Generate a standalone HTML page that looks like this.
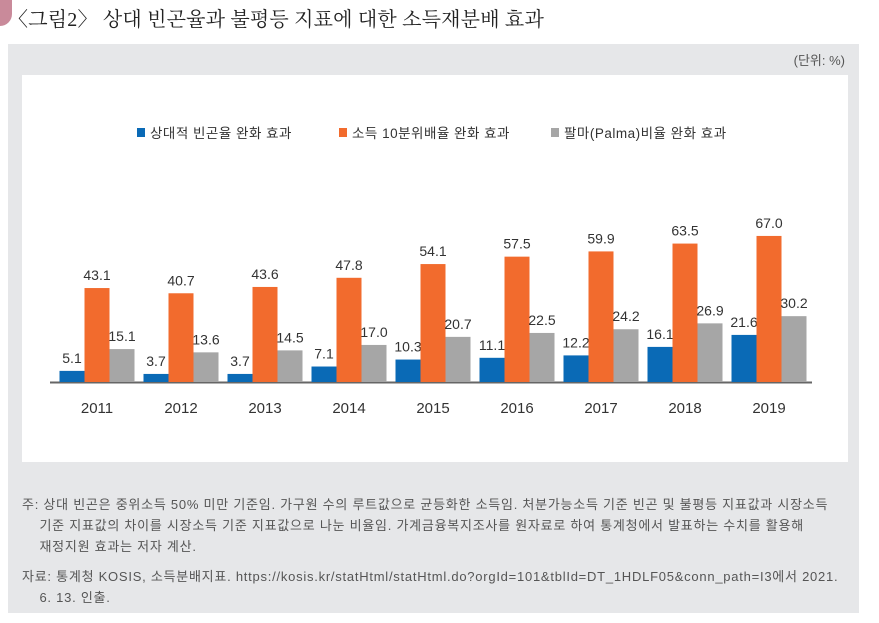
<!DOCTYPE html>
<html><head><meta charset="utf-8">
<style>
body{margin:0;width:879px;height:623px;background:#fff;overflow:hidden;font-family:"Liberation Sans","Noto Sans CJK KR",sans-serif;}
.title{position:absolute;left:8px;top:3px;font-size:20px;color:#222;font-family:"Liberation Serif","Noto Serif CJK SC",serif;letter-spacing:0.2px}
.mark{position:absolute;left:0;top:0;width:12px;height:26px;background:#c98a9a;border-radius:0 0 12px 0}
.panel{position:absolute;left:8px;top:44px;width:851px;height:569px;background:#e6e7e9}
.unit{position:absolute;right:14px;top:6px;font-size:13px;color:#555}
.white{position:absolute;left:14px;top:31px;width:826px;height:387px;background:#fff}
.note{position:absolute;left:14px;font-size:13px;color:#555;line-height:21px;letter-spacing:0.75px;white-space:nowrap}
</style></head><body>
<div class="mark"></div>
<div class="title">〈그림2〉 상대 빈곤율과 불평등 지표에 대한 소득재분배 효과</div>
<div class="panel">
<div class="unit">(단위: %)</div>
<div class="white"></div>
<div class="note" style="top:450px">주: 상대 빈곤은 중위소득 50% 미만 기준임. 가구원 수의 루트값으로 균등화한 소득임. 처분가능소득 기준 빈곤 및 불평등 지표값과 시장소득<br>&nbsp;&nbsp;&nbsp;&nbsp;기준 지표값의 차이를 시장소득 기준 지표값으로 나눈 비율임. 가계금융복지조사를 원자료로 하여 통계청에서 발표하는 수치를 활용해<br>&nbsp;&nbsp;&nbsp;&nbsp;재정지원 효과는 저자 계산.</div>
<div class="note" style="top:522px">자료: 통계청 KOSIS, 소득분배지표. https://kosis.kr/statHtml/statHtml.do?orgId=101&amp;tblId=DT_1HDLF05&amp;conn_path=I3에서 2021.<br>&nbsp;&nbsp;&nbsp;&nbsp;6. 13. 인출.</div>
</div>
<svg id="chart" width="879" height="623" style="position:absolute;left:0;top:0"></svg>
<script>
const years=["2011","2012","2013","2014","2015","2016","2017","2018","2019"];
const poverty=[5.1,3.7,3.7,7.1,10.3,11.1,12.2,16.1,21.6];
const decile=[43.1,40.7,43.6,47.8,54.1,57.5,59.9,63.5,67.0];
const palma=[15.1,13.6,14.5,17.0,20.7,22.5,24.2,26.9,30.2];
const seriesNames=["상대적 빈곤율 완화 효과","소득 10분위배율 완화 효과","팔마(Palma)비율 완화 효과"];
const NS="http://www.w3.org/2000/svg";
const svg=document.getElementById('chart');
const base=382, scale=2.18, x0=97, step=84, bw=25;
const colors=["#0a6ab6","#f26b2d","#a6a6a6"];
const yS=v=>base-v*scale;
const xS=i=>x0+i*step;
function mk(t,a){const e=document.createElementNS(NS,t);for(const k in a)e.setAttribute(k,a[k]);svg.appendChild(e);return e;}
const axis=mk('line',{x1:50,x2:812,y1:base+0.5,y2:base+0.5,stroke:'#666','stroke-width':2});


[poverty,decile,palma].forEach((arr,s)=>{
 arr.forEach((v,i)=>{
  const x=xS(i)-bw*1.5+s*bw;
  const r=mk('rect',{x:x,y:yS(v),width:bw,height:v*scale,fill:colors[s]});
  
  
  const t=mk('text',{x:x+bw/2,y:yS(v)-8,'text-anchor':'middle','font-size':14,fill:'#333'});
  t.textContent=v.toFixed(1);
  
  
 });
});
years.forEach((y,i)=>{
 const t=mk('text',{x:xS(i),y:413,'text-anchor':'middle','font-size':15,fill:'#333'});
 t.textContent=y;
 
 
});
const lx=[137,339,551];
seriesNames.forEach((n,s)=>{
 const r=mk('rect',{x:lx[s],y:128,width:8,height:9,fill:colors[s]});
 
 
 const t=mk('text',{x:lx[s]+13,y:138,'font-size':13.5,fill:'#333','letter-spacing':0.5});
 t.textContent=n;
 
 
});
</script>
</body></html>
